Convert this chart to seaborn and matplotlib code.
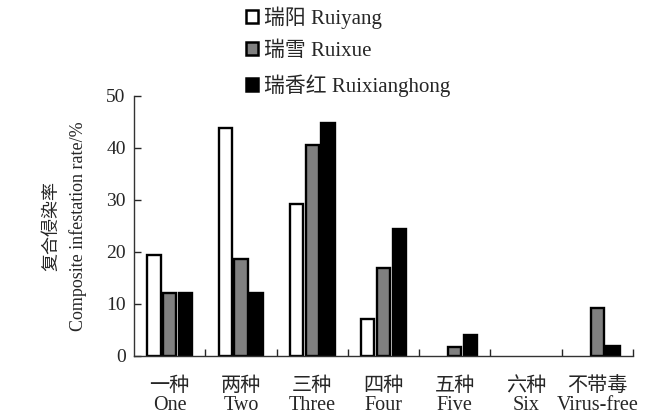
import seaborn as sns
import matplotlib.pyplot as plt
import pandas as pd
from matplotlib.patches import Patch
from matplotlib.ticker import FixedLocator

categories = ["一种\nOne", "两种\nTwo", "三种\nThree", "四种\nFour", "五种\nFive", "六种\nSix", "不带毒\nVirus-free"]
varieties = ["瑞阳 Ruiyang", "瑞雪 Ruixue", "瑞香红 Ruixianghong"]
ruiyang = [19.4, 43.8, 29.2, 7.2, 0, 0, 0]
ruixue = [12.2, 18.7, 40.5, 16.9, 1.8, 0, 9.3]
ruixianghong = [12.2, 12.2, 44.9, 24.4, 4.0, 0, 2.0]
colors = ["white", "#808080", "black"]

df = pd.DataFrame({
    "cat": categories * 3,
    "variety": [varieties[0]] * 7 + [varieties[1]] * 7 + [varieties[2]] * 7,
    "rate": ruiyang + ruixue + ruixianghong,
})

sns.set_style("ticks")
plt.rcParams["font.family"] = ["Liberation Serif", "Noto Sans CJK SC"]

fig = plt.figure(figsize=(6.52, 4.17), dpi=100)
ax = fig.add_axes([0.2055, 0.1463, 0.7654, 0.6235])

sns.barplot(
    data=df, x="cat", y="rate", hue="variety",
    order=categories, hue_order=varieties,
    palette=colors,
    width=0.66, gap=0.15,
    edgecolor="black", linewidth=1.7,
    saturation=1.0, legend=False, ax=ax,
)
# empty groups show nothing in the original
for p in ax.patches:
    if p.get_height() == 0:
        p.set_visible(False)

ax.set_xlim(-0.5, 6.5)
ax.set_ylim(0, 50)
ax.set_yticks([0, 10, 20, 30, 40, 50])
ax.set_xlabel("")
ax.set_ylabel("复合侵染率\nComposite infestation rate/%", fontsize=13, labelpad=14, linespacing=1.6)
ax.tick_params(axis="y", direction="in", length=5, width=1, labelsize=14, pad=6)
ax.tick_params(axis="x", which="major", length=0, labelsize=14.5, pad=15)
ax.xaxis.set_minor_locator(FixedLocator([0.5, 1.5, 2.5, 3.5, 4.5, 5.5, 6.5]))
ax.tick_params(axis="x", which="minor", direction="in", length=5, width=1)
for lab in ax.get_xticklabels():
    lab.set_linespacing(1.0)
sns.despine(ax=ax)
for s in ["left", "bottom"]:
    ax.spines[s].set_linewidth(1)
    ax.spines[s].set_color("#333333")

handles = [Patch(facecolor=c, edgecolor="black", linewidth=1.8) for c in colors]
fig.legend(
    handles, varieties,
    loc="upper left", bbox_to_anchor=(0.377, 0.985),
    frameon=False, fontsize=15, handlelength=0.6, handleheight=0.6,
    handletextpad=0.25, labelspacing=0.62, borderaxespad=0, borderpad=0,
)

fig.savefig("out.png", dpi=100)
